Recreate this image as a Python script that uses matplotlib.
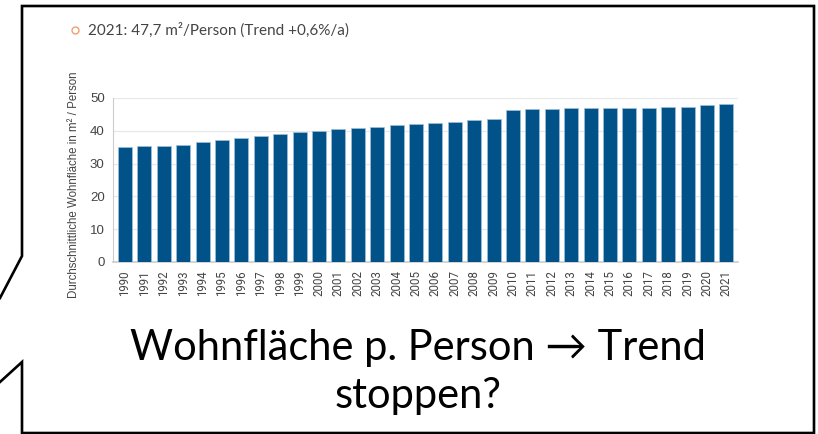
import matplotlib.pyplot as plt
from matplotlib.lines import Line2D

W, H = 818, 434

years = [str(y) for y in range(1990, 2022)]
flaeche = [35.2, 35.3, 35.5, 35.8, 36.5, 37.1, 37.7, 38.3, 38.9, 39.5,
           40.0, 40.5, 40.9, 41.2, 41.7, 42.0, 42.4, 42.8, 43.2, 43.6,
           46.2, 46.5, 46.7, 46.8, 46.9, 46.9, 46.8, 47.0, 47.2, 47.4,
           47.8, 48.1]
yticks = [0, 10, 20, 30, 40, 50]

title = "2021: 47,7 m²/Person (Trend +0,6%/a)"
ylabel = "Durchschnittliche Wohnfläche in m² / Person"
caption = "Wohnfläche p. Person \u2192 Trend\nstoppen?"


def fx(px):
    return px / W


def fy(py):
    return 1 - py / H


fig = plt.figure(figsize=(W / 100, H / 100), dpi=100, facecolor='white')

# speech bubble outline
bubble_x = [0, 22, 22, 814, 814, 22, 22, 0]
bubble_y = [382, 362, 433, 433, 6, 6, 256, 298]
fig.add_artist(Line2D([fx(x) for x in bubble_x], [fy(y) for y in bubble_y],
                      color='black', lw=1.9, solid_joinstyle='miter'))

# header line with orange bullet
fig.add_artist(Line2D([fx(75)], [fy(30)], marker='o', ms=5, mfc='none',
                      mec='#f0a070', mew=1.0, ls='none'))
fig.text(fx(88), fy(30), title, fontsize=11, color='#444444',
         family=['Lato', 'DejaVu Sans'], va='center', ha='left')

ax = fig.add_axes([fx(113), fy(262), fx(738) - fx(113), fy(98) - fy(262)])
x = range(len(years))
ax.bar(x, flaeche, width=0.72, color='#02528a', edgecolor='#9fbfdb',
       linewidth=0.5, zorder=3)
ax.set_xlim(-0.62, len(years) - 1 + 0.6)
ax.set_ylim(0, 50)
ax.set_yticks(yticks)
ax.set_xticks(list(x))
ax.set_xticklabels(years, rotation=90, fontsize=8.3, color='#444444',
                   family=['Roboto', 'DejaVu Sans'])
ax.tick_params(axis='y', labelsize=9.5, colors='#444444', length=0, pad=6)
ax.tick_params(axis='x', length=0, pad=6)
for lbl in ax.get_yticklabels():
    lbl.set_family(['Liberation Sans', 'DejaVu Sans'])
ax.grid(axis='y', color='#e8e8e8', lw=0.9, zorder=0)
for side in ['top', 'right']:
    ax.spines[side].set_visible(False)
ax.spines['left'].set_color('#cccccc')
ax.spines['bottom'].set_color('#cccccc')
ax.spines['bottom'].set_linewidth(1.2)
ax.set_ylabel(ylabel, fontsize=8.3, color='#444444',
              family=['Liberation Sans', 'DejaVu Sans'])
ax.yaxis.set_label_coords(-0.053, 0.47)

fig.text(fx(418), fy(372), caption, fontsize=30, color='black',
         family=['Lato', 'DejaVu Sans'], ha='center', va='center',
         linespacing=1.3)

plt.savefig('out.png', dpi=100, facecolor='white')
